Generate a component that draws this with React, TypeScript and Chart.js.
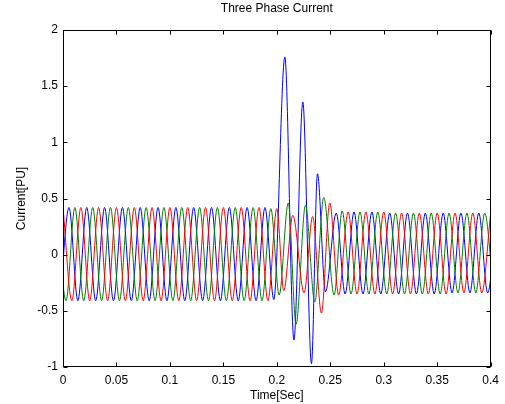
import { useEffect, useRef } from "react";
import { Chart, registerables } from "chart.js";

Chart.register(...registerables);

const chartTitle = "Three Phase Current";
const xLabel = "Time[Sec]";
const yLabel = "Current[PU]";

const xTicks = [0, 0.05, 0.1, 0.15, 0.2, 0.25, 0.3, 0.35, 0.4];
const yTicks = [-1, -0.5, 0, 0.5, 1, 1.5, 2];

// Phase waveforms: successive peaks / troughs
const redTime = [
  0, 0.0083, 0.0167, 0.025, 0.0333, 0.0417, 0.05, 0.0583, 0.0667, 0.075, 0.0833, 0.0917,
  0.1, 0.1083, 0.1167, 0.125, 0.1333, 0.1417, 0.15, 0.1583, 0.1667, 0.175, 0.1833, 0.1917,
  0.2, 0.2065, 0.215, 0.2255, 0.2335, 0.2417, 0.2495, 0.2578, 0.2667, 0.275, 0.2833, 0.2917,
  0.3, 0.3083, 0.3167, 0.325, 0.3333, 0.3417, 0.35, 0.3583, 0.3667, 0.375, 0.3833, 0.3917, 0.4,
];
const redCurrent = [
  0.42, -0.41, 0.42, -0.41, 0.42, -0.41, 0.42, -0.41, 0.42, -0.41, 0.42, -0.41,
  0.42, -0.41, 0.42, -0.41, 0.42, -0.41, 0.42, -0.41, 0.42, -0.41, 0.42, -0.41,
  0.41, -0.32, 0.35, -0.34, 0.34, -0.52, 0.46, -0.36, 0.38, -0.35, 0.38, -0.35,
  0.38, -0.35, 0.37, -0.35, 0.37, -0.35, 0.37, -0.35, 0.37, -0.34, 0.37, -0.34, 0.37,
];

const blueTime = [
  -0.0028, 0.0056, 0.0139, 0.0222, 0.0306, 0.0389, 0.0472, 0.0556, 0.0639, 0.0722, 0.0806, 0.0889,
  0.0972, 0.1056, 0.1139, 0.1222, 0.1306, 0.1389, 0.1472, 0.1556, 0.1639, 0.1722, 0.1806, 0.1889,
  0.1972, 0.2075, 0.216, 0.2243, 0.2324, 0.238, 0.2455, 0.2556, 0.2639, 0.2722, 0.2806, 0.2889,
  0.2972, 0.3056, 0.3139, 0.3222, 0.3306, 0.3389, 0.3472, 0.3556, 0.3639, 0.3722, 0.3806, 0.3889,
  0.3972, 0.4056,
];
const blueCurrent = [
  -0.41, 0.42, -0.41, 0.42, -0.41, 0.42, -0.41, 0.42, -0.41, 0.42, -0.41, 0.42,
  -0.41, 0.42, -0.41, 0.42, -0.41, 0.42, -0.41, 0.42, -0.41, 0.42, -0.41, 0.42,
  -0.4, 1.76, -0.76, 1.36, -0.97, 0.72, -0.33, 0.37, -0.35, 0.38, -0.35, 0.38,
  -0.35, 0.37, -0.35, 0.37, -0.35, 0.37, -0.35, 0.37, -0.34, 0.37, -0.34, 0.37,
  -0.34, 0.37,
];

const greenTime = [
  -0.0056, 0.0028, 0.0111, 0.0194, 0.0278, 0.0361, 0.0444, 0.0528, 0.0611, 0.0694, 0.0778, 0.0861,
  0.0944, 0.1028, 0.1111, 0.1194, 0.1278, 0.1361, 0.1444, 0.1528, 0.1611, 0.1694, 0.1778, 0.1861,
  0.1944, 0.2022, 0.2107, 0.218, 0.2268, 0.2355, 0.2439, 0.2536, 0.2611, 0.2694, 0.2778, 0.2861,
  0.2944, 0.3028, 0.3111, 0.3194, 0.3278, 0.3361, 0.3444, 0.3528, 0.3611, 0.3694, 0.3778, 0.3861,
  0.3944, 0.4028,
];
const greenCurrent = [
  0.42, -0.41, 0.42, -0.41, 0.42, -0.41, 0.42, -0.41, 0.42, -0.41, 0.42, -0.41,
  0.42, -0.41, 0.42, -0.41, 0.42, -0.41, 0.42, -0.41, 0.42, -0.41, 0.42, -0.41,
  0.41, -0.36, 0.46, -0.62, 0.44, -0.42, 0.51, -0.36, 0.39, -0.35, 0.38, -0.35,
  0.38, -0.35, 0.37, -0.35, 0.37, -0.35, 0.37, -0.35, 0.37, -0.34, 0.37, -0.34,
  0.37, -0.34,
];

const FONT = '"Liberation Sans", Arial, Helvetica, sans-serif';

const toPoints = (t: number[], v: number[]) => t.map((x, i) => ({ x, y: v[i] }));

const framePlugin = {
  id: "matlabFrame",
  afterDatasetsDraw(chart: any) {
    const { ctx, chartArea: a } = chart;
    const xs = chart.scales.x;
    const ys = chart.scales.y;
    ctx.save();
    ctx.strokeStyle = "#000";
    ctx.lineWidth = 1;
    const L = Math.round(a.left) + 0.5;
    const R = Math.round(a.right) - 0.5;
    const T = Math.round(a.top) + 0.5;
    const B = Math.round(a.bottom) - 0.5;
    ctx.strokeRect(L, T, R - L, B - T);
    const tk = 4;
    ctx.beginPath();
    xTicks.forEach((v) => {
      const px = Math.round(xs.getPixelForValue(v)) + 0.5;
      ctx.moveTo(px, B);
      ctx.lineTo(px, B - tk);
      ctx.moveTo(px, T);
      ctx.lineTo(px, T + tk);
    });
    yTicks.forEach((v) => {
      const py = Math.round(ys.getPixelForValue(v)) + 0.5;
      ctx.moveTo(L, py);
      ctx.lineTo(L + tk, py);
      ctx.moveTo(R, py);
      ctx.lineTo(R - tk, py);
    });
    ctx.stroke();
    ctx.fillStyle = "#000";
    ctx.font = `12px ${FONT}`;
    ctx.textAlign = "center";
    ctx.textBaseline = "middle";
    ctx.fillText(chartTitle, (a.left + a.right) / 2, 9);
    ctx.restore();
  },
};

export default function App() {
  const ref = useRef<HTMLCanvasElement>(null);

  useEffect(() => {
    if (!ref.current) return;
    const lineCommon = {
      borderWidth: 1,
      pointRadius: 0,
      pointHoverRadius: 0,
      fill: false,
      cubicInterpolationMode: "monotone" as const,
    };
    const chart = new Chart(ref.current, {
      type: "line",
      data: {
        datasets: [
          { ...lineCommon, label: "Phase A", data: toPoints(blueTime, blueCurrent), borderColor: "#0000ff", order: 3 },
          { ...lineCommon, label: "Phase B", data: toPoints(greenTime, greenCurrent), borderColor: "#008000", order: 2 },
          { ...lineCommon, label: "Phase C", data: toPoints(redTime, redCurrent), borderColor: "#ff0000", order: 1 },
        ],
      },
      options: {
        responsive: false,
        animation: false,
        events: [],
        layout: { padding: { left: 0, right: 10, top: 30, bottom: 0 } },
        plugins: {
          legend: { display: false },
          title: { display: false },
          tooltip: { enabled: false },
        },
        scales: {
          x: {
            type: "linear",
            min: 0,
            max: 0.4,
            afterBuildTicks: (s: any) => {
              s.ticks = xTicks.map((value) => ({ value }));
            },
            afterFit: (s: any) => {
              s.height = 37;
            },
            grid: { display: false, drawTicks: false },
            border: { display: false },
            ticks: {
              color: "#000",
              font: { family: FONT, size: 12 },
              padding: 6,
              maxRotation: 0,
              autoSkip: false,
              callback: (v: any) => String(v),
            },
            title: {
              display: true,
              text: xLabel,
              color: "#000",
              font: { family: FONT, size: 12 },
              padding: { top: 0, bottom: 1.5 },
            },
          },
          y: {
            type: "linear",
            min: -1,
            max: 2,
            afterBuildTicks: (s: any) => {
              s.ticks = yTicks.map((value) => ({ value }));
            },
            afterFit: (s: any) => {
              s.width = 63;
            },
            grid: { display: false, drawTicks: false },
            border: { display: false },
            ticks: {
              color: "#000",
              font: { family: FONT, size: 12 },
              padding: 5,
              autoSkip: false,
              callback: (v: any) => String(v),
            },
            title: {
              display: true,
              text: yLabel,
              color: "#000",
              font: { family: FONT, size: 12 },
              padding: { top: 14.8, bottom: 0 },
            },
          },
        },
      },
      plugins: [framePlugin],
    });
    return () => chart.destroy();
  }, []);

  return (
    <div style={{ position: "absolute", left: 0, top: 0, width: 505, height: 404, background: "#fff" }}>
      <canvas ref={ref} width={505} height={404} style={{ display: "block" }} />
    </div>
  );
}
